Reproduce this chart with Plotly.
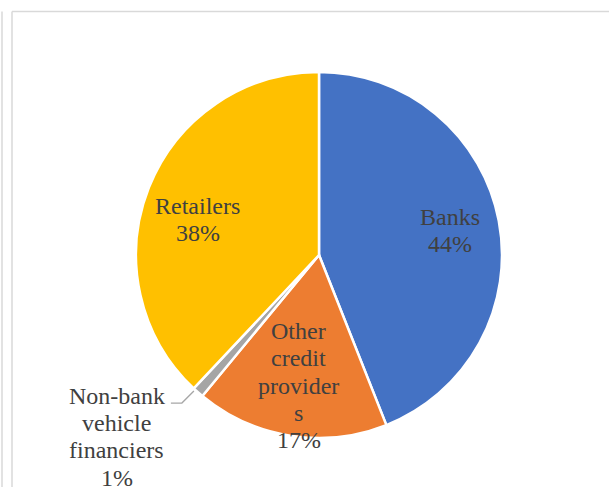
import math
import plotly.graph_objects as go

# Share of credit granted, by type of credit provider
categories = ["Banks", "Other credit providers", "Non-bank vehicle financiers", "Retailers"]
shares = [44, 17, 1, 38]
label_lines = [
    ["Banks", "44%"],
    ["Other", "credit", "provider", "s", "17%"],
    ["Non-bank", "vehicle", "financiers", "1%"],
    ["Retailers", "38%"],
]
colors = ["#4472C4", "#ED7D31", "#A5A5A5", "#FFC000"]

W, H = 609, 487
CX, CY, R = 319, 255, 183          # pie centre and radius in pixels
FONT = "Liberation Serif"
FSIZE = 24
LINE_GAP = 27.3
TEXT_COLOR = "#404040"


def px(x):
    return x / W


def py(y):
    return 1 - y / H


fig = go.Figure(go.Pie(
    labels=categories,
    values=shares,
    sort=False,
    direction="clockwise",
    rotation=0,
    marker=dict(colors=colors, line=dict(color="white", width=2.5)),
    textinfo="none",
    hoverinfo="label+percent",
    showlegend=False,
    domain=dict(x=[px(CX - R), px(CX + R)], y=[py(CY + R), py(CY - R)]),
))

# mid-angle of every slice, degrees clockwise from 12 o'clock
total = sum(shares)
mids = []
acc = 0
for v in shares:
    mids.append((acc + v / 2) / total * 360)
    acc += v


def polar(angle_deg, r):
    a = math.radians(angle_deg)
    return CX + r * math.sin(a), CY - r * math.cos(a)


# label placement: (radius fraction, angle nudge) for labels inside slices
inside_place = {0: (0.722, 3.2), 1: (0.76, -0.7), 3: (0.68, -8.2)}

annotations = []
shapes = []


def add_block(lines, cx, cy_mid):
    n = len(lines)
    first = cy_mid - (n - 1) * LINE_GAP / 2
    for i, t in enumerate(lines):
        base = first + i * LINE_GAP
        annotations.append(dict(
            x=px(cx), y=py(base - 7), xref="paper", yref="paper",
            text=t, showarrow=False, xanchor="center", yanchor="middle",
            font=dict(family=FONT, size=FSIZE, color=TEXT_COLOR),
        ))


for i, lines in enumerate(label_lines):
    if i in inside_place:
        rf, da = inside_place[i]
        x, y = polar(mids[i] + da, R * rf)
        add_block(lines, x, y)

# small slice: label outside with a leader line
ex, ey = polar(mids[2] + 1.2, R * 1.01)
elbow_x, elbow_y = ex - 12, ey + 12
tail_x = elbow_x - 11
shapes.append(dict(
    type="path", xref="paper", yref="paper",
    path=f"M {px(tail_x)} {py(elbow_y)} L {px(elbow_x)} {py(elbow_y)} L {px(ex)} {py(ey)}",
    line=dict(color="#A6A6A6", width=1.3),
))
add_block(label_lines[2], tail_x - 54, elbow_y + 40.5)

# frame lines around the chart area
frame = "#D9D9D9"
shapes += [
    dict(type="line", xref="paper", yref="paper", x0=px(2), x1=px(2), y0=py(11.5), y1=0,
         line=dict(color=frame, width=1.5)),
    dict(type="line", xref="paper", yref="paper", x0=px(12), x1=px(12), y0=py(11.5), y1=0,
         line=dict(color=frame, width=1.5)),
    dict(type="line", xref="paper", yref="paper", x0=px(12), x1=1, y0=py(11.5), y1=py(11.5),
         line=dict(color=frame, width=1.5)),
]

fig.update_layout(
    width=W, height=H,
    margin=dict(l=0, r=0, t=0, b=0),
    paper_bgcolor="white", plot_bgcolor="white",
    annotations=annotations, shapes=shapes,
)

fig.write_html("out.html")
